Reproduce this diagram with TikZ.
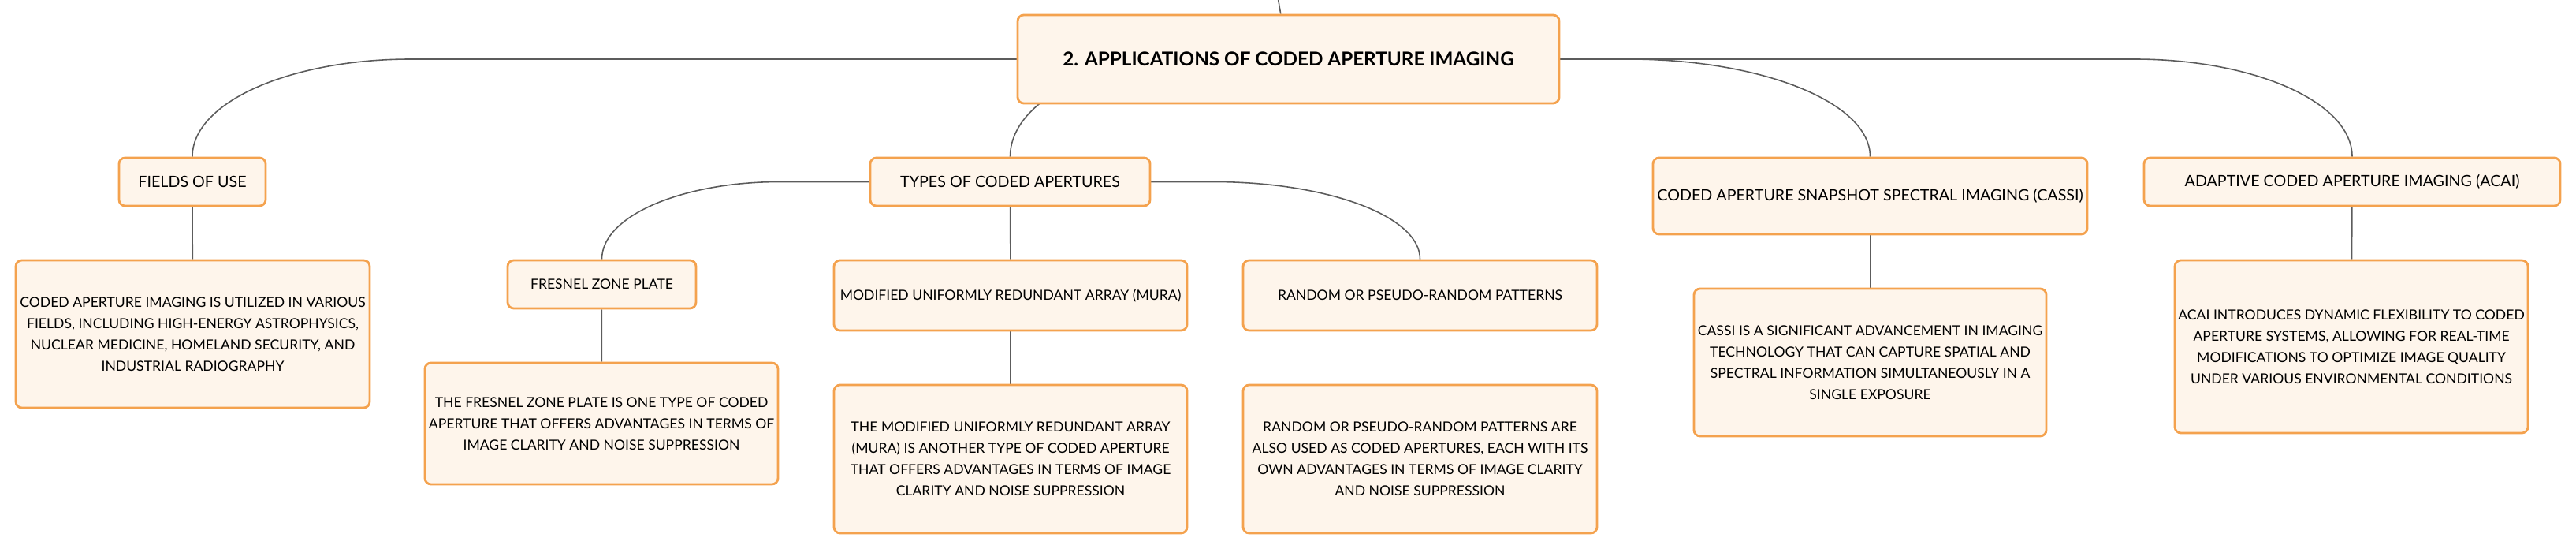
\documentclass[tikz,border=0pt]{standalone}
\usepackage{fontspec}
\setmainfont{Lato}
\usepackage{xcolor}
\usepackage{tikz}
\usetikzlibrary{calc,backgrounds}
\definecolor{boxline}{HTML}{F4A24E}
\definecolor{boxfill}{HTML}{FEF5EB}
\definecolor{wiregray}{HTML}{5C5C5C}

\begin{document}
\begin{tikzpicture}
        \tikzstyle{every node}+=[inner sep=0pt]
        \tikzstyle{box}=[draw=boxline, fill=boxfill, line width=0.8pt, rounded corners=2.2pt, align=center]
        \tikzstyle{wire}=[draw=wiregray, line width=0.45pt]
        \tikzstyle{big}=[font=\fontsize{6.9}{9}\selectfont\bfseries]
        \tikzstyle{mid}=[font=\fontsize{5.6}{7.7}\selectfont]
        \tikzstyle{small}=[font=\fontsize{5}{7.7}\selectfont]
        \useasboundingbox (0,0) rectangle (32.68,-6.96);
        \node [box, big, minimum width=6.87cm, minimum height=1.12cm] (root) at (16.345,-0.75) {2. APPLICATIONS OF CODED APERTURE IMAGING};
        \node [box, mid, minimum width=1.86cm, minimum height=0.61cm] (fields) at (2.44,-2.305) {FIELDS OF USE};
        \node [box, small, minimum width=4.49cm, minimum height=1.87cm] (fieldsText) at (2.445,-4.235) {CODED APERTURE IMAGING IS UTILIZED IN VARIOUS\\FIELDS, INCLUDING HIGH-ENERGY ASTROPHYSICS,\\NUCLEAR MEDICINE, HOMELAND SECURITY, AND\\INDUSTRIAL RADIOGRAPHY};
        \node [box, mid, minimum width=3.55cm, minimum height=0.61cm] (types) at (12.815,-2.305) {TYPES OF CODED APERTURES};
        \node [box, small, minimum width=2.39cm, minimum height=0.61cm] (fresnel) at (7.635,-3.605) {FRESNEL ZONE PLATE};
        \node [box, small, minimum width=4.48cm, minimum height=1.54cm] (fresnelText) at (7.63,-5.37) {THE FRESNEL ZONE PLATE IS ONE TYPE OF CODED\\APERTURE THAT OFFERS ADVANTAGES IN TERMS OF\\IMAGE CLARITY AND NOISE SUPPRESSION};
        \node [box, small, minimum width=4.48cm, minimum height=0.89cm] (mura) at (12.82,-3.745) {MODIFIED UNIFORMLY REDUNDANT ARRAY (MURA)};
        \node [box, small, minimum width=4.48cm, minimum height=1.88cm] (muraText) at (12.82,-5.82) {THE MODIFIED UNIFORMLY REDUNDANT ARRAY\\(MURA) IS ANOTHER TYPE OF CODED APERTURE\\THAT OFFERS ADVANTAGES IN TERMS OF IMAGE\\CLARITY AND NOISE SUPPRESSION};
        \node [box, small, minimum width=4.49cm, minimum height=0.89cm] (random) at (18.015,-3.745) {RANDOM OR PSEUDO-RANDOM PATTERNS};
        \node [box, small, minimum width=4.49cm, minimum height=1.88cm] (randomText) at (18.015,-5.82) {RANDOM OR PSEUDO-RANDOM PATTERNS ARE\\ALSO USED AS CODED APERTURES, EACH WITH ITS\\OWN ADVANTAGES IN TERMS OF IMAGE CLARITY\\AND NOISE SUPPRESSION};
        \node [box, mid, minimum width=5.51cm, minimum height=0.97cm] (cassi) at (23.725,-2.485) {CODED APERTURE SNAPSHOT SPECTRAL IMAGING (CASSI)};
        \node [box, small, minimum width=4.47cm, minimum height=1.87cm] (cassiText) at (23.725,-4.595) {CASSI IS A SIGNIFICANT ADVANCEMENT IN IMAGING\\TECHNOLOGY THAT CAN CAPTURE SPATIAL AND\\SPECTRAL INFORMATION SIMULTANEOUSLY IN A\\SINGLE EXPOSURE};
        \node [box, mid, minimum width=5.28cm, minimum height=0.61cm] (acai) at (29.84,-2.305) {ADAPTIVE CODED APERTURE IMAGING (ACAI)};
        \node [box, small, minimum width=4.48cm, minimum height=2.19cm] (acaiText) at (29.83,-4.395) {ACAI INTRODUCES DYNAMIC FLEXIBILITY TO CODED\\APERTURE SYSTEMS, ALLOWING FOR REAL-TIME\\MODIFICATIONS TO OPTIMIZE IMAGE QUALITY\\UNDER VARIOUS ENVIRONMENTAL CONDITIONS};
        \coordinate (up) at (16.2,0.1);
        \begin{scope}[on background layer]
        \draw [wire] (up) -- (root);
        \draw [wire] (root.center) -- ($(fields.north |- root.center)+(2.77,0)$) .. controls +(-1.53,0) and +(0,0.69) .. (fields.north);
        \draw [wire] (root.center) -- ($(types.north |- root.center)+(2.34,0)$) .. controls +(-1.29,0) and +(0,0.69) .. (types.north);
        \draw [wire] (root.center) -- ($(cassi.north |- root.center)+(-3.07,0)$) .. controls +(1.69,0) and +(0,0.69) .. (cassi.north);
        \draw [wire] (root.center) -- ($(acai.north |- root.center)+(-2.76,0)$) .. controls +(1.52,0) and +(0,0.69) .. (acai.north);
        \draw [wire] (types.center) -- ($(fresnel.north |- types.center)+(2.26,0)$) .. controls +(-1.24,0) and +(0,0.55) .. (fresnel.north);
        \draw [wire] (types.center) -- ($(random.north |- types.center)+(-2.63,0)$) .. controls +(1.45,0) and +(0,0.55) .. (random.north);
        \draw [wire] (types) -- (mura);
        \draw [wire] (fields) -- (fieldsText);
        \draw [wire] (fresnel) -- (fresnelText);
        \draw [wire] (mura) -- (muraText);
        \draw [wire] (random) -- (randomText);
        \draw [wire] (cassi) -- (cassiText);
        \draw [wire] (acai) -- (acaiText);
        \end{scope}
\end{tikzpicture}
\end{document}
